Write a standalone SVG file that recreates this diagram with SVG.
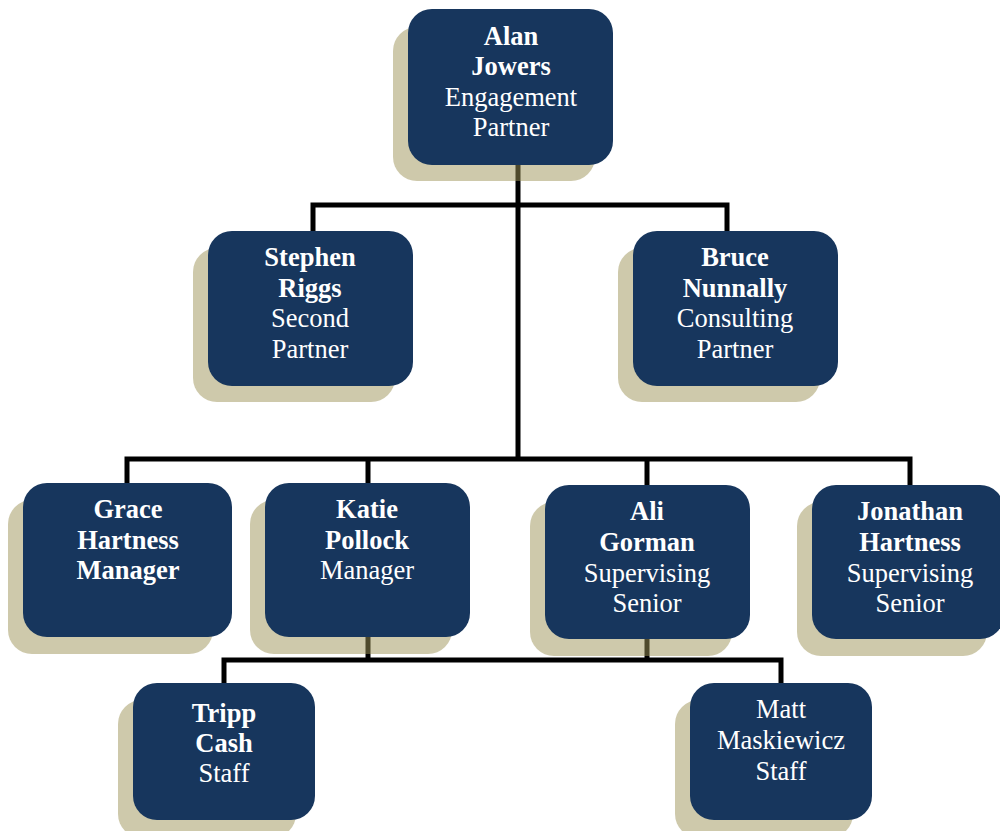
<svg xmlns="http://www.w3.org/2000/svg" width="1000" height="831" viewBox="0 0 1000 831">
<style>
.box{fill:#17365d;}
.sh{fill:#9d9358;fill-opacity:0.5;}
.ln{fill:none;stroke:#000;stroke-width:5;stroke-linecap:square;}
text{font-family:"Liberation Serif","Times New Roman",serif;font-size:26.5px;fill:#fff;text-anchor:middle;}
.b{font-weight:bold;}
</style>
<rect width="1000" height="831" fill="#fff"/>
<g id="connectors">
<path class="ln" d="M518 165V459M313 229V205H727V231M127 483V459H910V485M368 459V483M647 459V485"/>
<path class="ln" d="M368 637V660M647 639V660M224 683V660H781V683"/>
</g>
<g id="alan">
<rect class="sh" x="393" y="27" width="202" height="154" rx="24"/>
<rect class="box" x="408" y="9" width="205" height="156" rx="24"/>
<text x="511" y="45" class="b">Alan</text>
<text x="511" y="75" class="b">Jowers</text>
<text x="511" y="106">Engagement</text>
<text x="511" y="136">Partner</text>
</g>
<g id="stephen">
<rect class="sh" x="193" y="248" width="202" height="154" rx="24"/>
<rect class="box" x="208" y="231" width="205" height="155" rx="24"/>
<text x="310" y="266" class="b">Stephen</text>
<text x="310" y="297" class="b">Riggs</text>
<text x="310" y="327">Second</text>
<text x="310" y="358">Partner</text>
</g>
<g id="bruce">
<rect class="sh" x="618" y="248" width="202" height="154" rx="24"/>
<rect class="box" x="633" y="231" width="205" height="155" rx="24"/>
<text x="735" y="266" class="b">Bruce</text>
<text x="735" y="297" class="b">Nunnally</text>
<text x="735" y="327">Consulting</text>
<text x="735" y="358">Partner</text>
</g>
<g id="grace">
<rect class="sh" x="8" y="500" width="205" height="154" rx="24"/>
<rect class="box" x="23" y="483" width="209" height="154" rx="24"/>
<text x="128" y="518" class="b">Grace</text>
<text x="128" y="549" class="b">Hartness</text>
<text x="128" y="579" class="b">Manager</text>
</g>
<g id="katie">
<rect class="sh" x="250" y="500" width="202" height="154" rx="24"/>
<rect class="box" x="265" y="483" width="205" height="154" rx="24"/>
<text x="367" y="518" class="b">Katie</text>
<text x="367" y="549" class="b">Pollock</text>
<text x="367" y="579">Manager</text>
</g>
<g id="ali">
<rect class="sh" x="530" y="502" width="202" height="154" rx="24"/>
<rect class="box" x="545" y="485" width="205" height="154" rx="24"/>
<text x="647" y="520" class="b">Ali</text>
<text x="647" y="551" class="b">Gorman</text>
<text x="647" y="582">Supervising</text>
<text x="647" y="612">Senior</text>
</g>
<g id="jonathan">
<rect class="sh" x="797" y="502" width="190" height="154" rx="24"/>
<rect class="box" x="812" y="485" width="192" height="154" rx="24"/>
<text x="910" y="520" class="b">Jonathan</text>
<text x="910" y="551" class="b">Hartness</text>
<text x="910" y="582">Supervising</text>
<text x="910" y="612">Senior</text>
</g>
<g id="tripp">
<rect class="sh" x="118" y="700" width="178" height="138" rx="24"/>
<rect class="box" x="133" y="683" width="182" height="137" rx="24"/>
<text x="224" y="722" class="b">Tripp</text>
<text x="224" y="752" class="b">Cash</text>
<text x="224" y="782">Staff</text>
</g>
<g id="matt">
<rect class="sh" x="675" y="700" width="178" height="138" rx="24"/>
<rect class="box" x="690" y="683" width="182" height="137" rx="24"/>
<text x="781" y="718">Matt</text>
<text x="781" y="749">Maskiewicz</text>
<text x="781" y="780">Staff</text>
</g>
</svg>
